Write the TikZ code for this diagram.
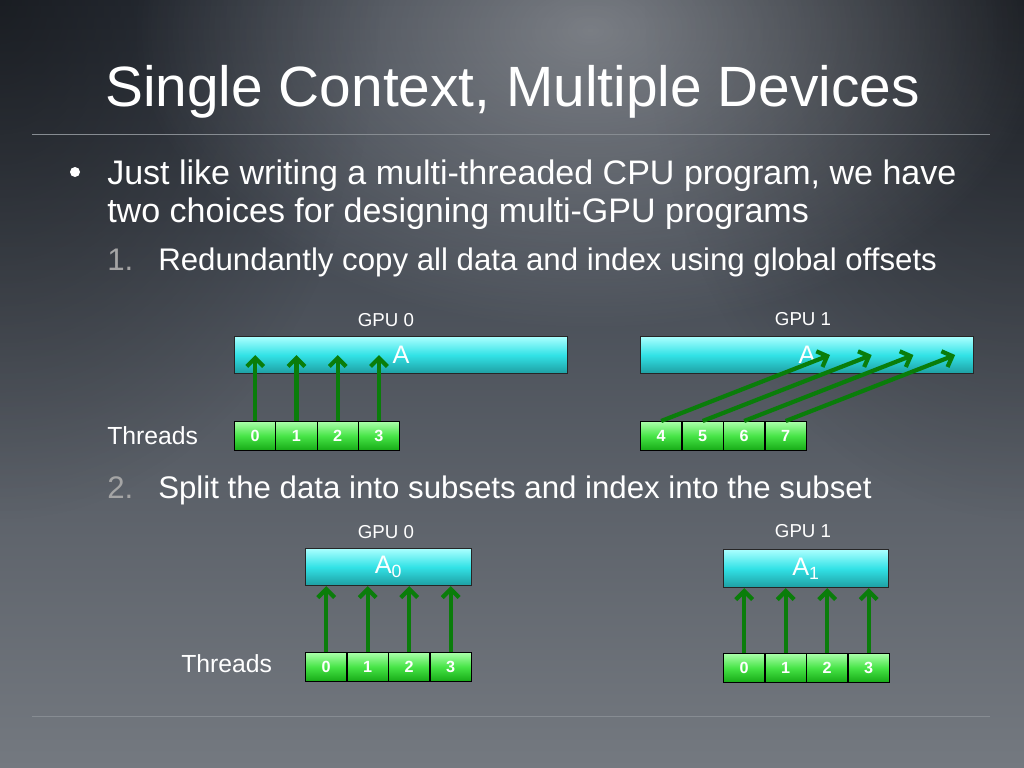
\documentclass[tikz,border=0pt]{standalone}
\usepackage{fontspec}
\setmainfont{Liberation Sans}
\usetikzlibrary{arrows.meta,fadings,calc}
\newlength\upx \setlength\upx{0.025cm}
\definecolor{bgTop}{RGB}{48,54,64}
\definecolor{bgMid}{RGB}{84,90,98}
\definecolor{bgBot}{RGB}{116,121,128}
\definecolor{cyTop}{RGB}{170,255,255}
\definecolor{cyMid}{RGB}{50,226,230}
\definecolor{cyBot}{RGB}{30,158,162}
\definecolor{grTop}{RGB}{170,255,170}
\definecolor{grMid}{RGB}{70,228,70}
\definecolor{grBot}{RGB}{22,170,22}
\definecolor{arrG}{RGB}{10,125,10}
\definecolor{numG}{RGB}{165,165,165}
\definecolor{ruleC}{RGB}{135,140,146}
\tikzfading[name=spotfade, inner color=transparent!0, outer color=transparent!100]
\tikzset{
  titletxt/.style={text=white, font=\fontsize{40.4}{48}\selectfont, anchor=base west, inner sep=0},
  bodytxt/.style={text=white, font=\fontsize{24.2}{29}\selectfont, anchor=base west, inner sep=0},
  subtxt/.style={text=white, font=\fontsize{22.2}{27}\selectfont, anchor=base west, inner sep=0},
  enumtxt/.style={text=numG, font=\fontsize{22.2}{27}\selectfont, anchor=base west, inner sep=0},
  gputxt/.style={text=white, font=\fontsize{13.3}{16}\selectfont, anchor=base, inner sep=0},
  thrtxt/.style={text=white, font=\fontsize{17.6}{21}\selectfont, anchor=base west, inner sep=0},
  abox/.style={draw=black!85, line width=0.8pt, top color=cyTop, bottom color=cyBot, middle color=cyMid,
    inner sep=0, anchor=north west, text=white, font=\fontsize{18}{20}\selectfont},
  cell/.style={draw=black, line width=0.8pt, top color=grTop, bottom color=grBot, middle color=grMid,
    minimum width=41.25\upx, minimum height=29\upx, inner sep=0, anchor=north west,
    text=white, font=\fontsize{11.5}{13}\selectfont\bfseries},
  arr/.style={draw=arrG, line width=3pt, -{Straight Barb[length=6pt,width=12pt]}},
}
\begin{document}
\begin{tikzpicture}[x=0.025cm, y=-0.025cm]
\useasboundingbox (0,0) rectangle (1024,768);
% background
\begin{scope}
\clip (0,0) rectangle (1024,768);
\shade[top color=bgTop, middle color=bgMid, bottom color=bgBot] (0,0) rectangle (1024,768);
\fill[black, opacity=0.45, path fading=spotfade] (0,0) ellipse [x radius=380, y radius=520];
\fill[black, opacity=0.45, path fading=spotfade] (1024,0) ellipse [x radius=380, y radius=520];
\fill[white, opacity=0.35, path fading=spotfade] (590,30) ellipse [x radius=460, y radius=300];
\end{scope}

% title and rules
\node[titletxt] (title) at (105,107) {Single Context, Multiple Devices};
\draw[ruleC, line width=0.6pt] (32,134) -- (990,134);
\draw[ruleC, line width=0.6pt] (32,716) -- (990,716);

% bullet text
\node[circle, fill=white, inner sep=0, minimum size=10\upx] (bullet) at (75,172) {};
\node[bodytxt] (l1) at (107,185) {Just like writing a multi-threaded CPU program, we have};
\node[bodytxt] (l2) at (107,222) {two choices for designing multi-GPU programs};
\node[enumtxt] (n1) at (107,270) {1.};
\node[subtxt] (s1) at (158,270) {Redundantly copy all data and index using global offsets};
\node[enumtxt] (n2) at (107,498) {2.};
\node[subtxt] (s2) at (158,498) {Split the data into subsets and index into the subset};

% ---- diagram 1 ----
\node[gputxt] (g0) at (386,326) {GPU 0};
\node[gputxt] (g1) at (803,325) {GPU 1};
\node[abox, minimum width=333\upx, minimum height=37\upx] (A) at (234,336) {A};
\node[abox, minimum width=333\upx, minimum height=37\upx] (B) at (640,336) {A};
\node[thrtxt] (thr1) at (107,444) {Threads};
\foreach \i in {0,...,3} {
  \node[cell] (L\i) at ({234+41.25*\i},421) {\i};
}
\foreach \i/\t in {0/4,1/5,2/6,3/7} {
  \node[cell] (R\i) at ({640+41.5*\i},421) {\t};
}
\foreach \i in {0,...,3} {
  \draw[arr] (L\i.north) -- (L\i |- A.center);
}
\foreach \i in {0,...,3} {
  \coordinate (T\i) at ({830+41.7*\i},355);
  \draw[arr] (R\i.north) -- (T\i);
}

% ---- diagram 2 ----
\node[gputxt] (h0) at (386,538) {GPU 0};
\node[gputxt] (h1) at (803,537) {GPU 1};
\node[abox, minimum width=166\upx, minimum height=37\upx] (A0) at (305,548) {A\textsubscript{0}};
\node[abox, minimum width=165\upx, minimum height=38\upx] (A1) at (723,549) {A\textsubscript{1}};
\node[thrtxt] (thr2) at (181,672) {Threads};
\foreach \i in {0,...,3} {
  \node[cell] (P\i) at ({305+41.5*\i},652) {\i};
  \node[cell] (Q\i) at ({723+41.5*\i},653) {\i};
}
\foreach \i in {0,...,3} {
  \draw[arr] (P\i.north) -- (P\i |- A0.south);
  \draw[arr] (Q\i.north) -- (Q\i |- A1.south);
}
\end{tikzpicture}
\end{document}
